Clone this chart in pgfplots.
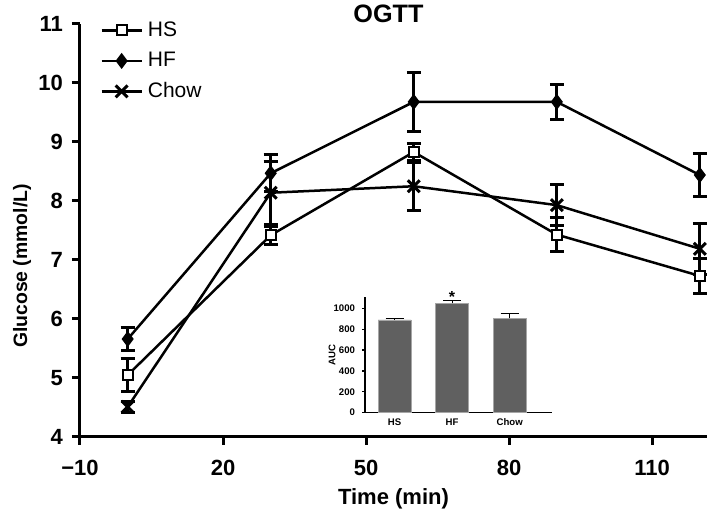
\documentclass[border=0pt]{standalone}
\usepackage{pgfplots}
\pgfplotsset{compat=1.18}
\usepackage{pgfplotstable}
\usepackage{fontspec}
\setmainfont{Liberation Sans}
\definecolor{barg}{RGB}{96,96,96}

\pgfplotstableread{
t m e
0 5.05 0.28
30 7.42 0.15
60 8.83 0.15
90 7.43 0.29
120 6.73 0.29
}\hsdata
\pgfplotstableread{
t m e
0 5.66 0.19
30 8.47 0.31
60 9.68 0.50
90 9.68 0.30
120 8.44 0.37
}\hfdata
\pgfplotstableread{
t m e
0 4.51 0.09
30 8.14 0.53
60 8.25 0.41
90 7.93 0.35
120 7.19 0.43
}\chowdata

\begin{document}
\begin{tikzpicture}
\useasboundingbox (0,0) rectangle (354.5pt,257pt);
\begin{axis}[
  at={(40pt,38.5pt)}, anchor=south west,
  scale only axis, width=313.5pt, height=206.5pt,
  xmin=-10, xmax=121.5, ymin=4, ymax=11,
  axis x line*=bottom, axis y line*=left,
  axis line style={line width=1.5pt},
  tick style={line width=1.5pt, black},
  tick align=outside, major tick length=4pt,
  xtick={-10,20,50,80,110}, xticklabels={−10,20,50,80,110},
  ytick={4,5,6,7,8,9,10,11},
  /pgf/number format/assume math mode=true,
  tick label style={font=\fontsize{11}{13}\selectfont\bfseries},
  xticklabel style={yshift=-4pt},
  yticklabel style={xshift=-1pt},
  every axis x label/.style={at={(rel axis cs:0.5,0)}, yshift=-31pt, anchor=center, font=\fontsize{11}{13}\selectfont\bfseries},
  every axis y label/.style={at={(rel axis cs:-0.0925,0.414)}, rotate=90, anchor=center, font=\fontsize{9.7}{12}\selectfont\bfseries},
  every axis title/.style={at={(rel axis cs:0.492,1)}, yshift=5pt, anchor=center, font=\fontsize{12.6}{14}\selectfont\bfseries},
  xlabel={Time (min)}, ylabel={Glucose (mmol/L)}, title={OGTT},
  clip=false,
  legend image code/.code={\draw[mark repeat=2,mark phase=2,#1] plot coordinates {(0pt,0pt) (10pt,0pt) (20pt,0pt)};},
  legend style={draw=none, fill=none, at={(axis cs:-10,11)}, xshift=10pt, yshift=2pt, anchor=north west, inner sep=0pt, font=\fontsize{10.5}{12}\selectfont, row sep=5.25pt, column sep=2.5pt, nodes={inner sep=0pt, text height=8pt, text depth=2pt}},
  legend cell align=left,
]
\addplot[line width=1.25pt, mark=square*, mark size=2.5pt, mark options={fill=white, solid, line width=1pt},
  error bars/.cd, y dir=both, y explicit, error bar style={line width=1.5pt},
  error mark options={rotate=90, mark size=3.5pt, line width=1.5pt}]
  table[x=t, y=m, y error=e] {\hsdata};
\addlegendentry{HS}
\addplot[line width=1.25pt, mark=diamond*, mark size=3pt, mark options={fill=black, solid},
  error bars/.cd, y dir=both, y explicit, error bar style={line width=1.5pt},
  error mark options={rotate=90, mark size=3.5pt, line width=1.5pt}]
  table[x=t, y=m, y error=e] {\hfdata};
\addlegendentry{HF}
\addplot[line width=1.25pt, mark=x, mark size=4.2pt, mark options={solid, line width=1.5pt},
  error bars/.cd, y dir=both, y explicit, error bar style={line width=1.5pt},
  error mark options={rotate=90, mark size=3.5pt, line width=1.5pt}]
  table[x=t, y=m, y error=e] {\chowdata};
\addlegendentry{Chow}
\end{axis}

\begin{axis}[
  at={(182.5pt,50.65pt)}, anchor=south west,
  scale only axis, width=93.35pt, height=58pt,
  xmin=-0.513, xmax=2.73, ymin=0, ymax=1111,
  axis x line*=bottom, axis y line*=left,
  axis line style={line width=0.65pt},
  xtick={0,1,2}, xticklabels={HS,HF,Chow},
  ytick={0,200,400,600,800,1000},
  x tick style={draw=none}, y tick style={line width=0.65pt, black},
  tick align=outside, major tick length=1.5pt,
  tick label style={font=\fontsize{4.8}{5}\selectfont\bfseries},
  xticklabel style={yshift=2pt},
  /pgf/number format/assume math mode=true,
  /pgf/number format/1000 sep={},
  every axis y label/.style={at={(rel axis cs:0,0.5)}, xshift=-16.5pt, rotate=90, anchor=center, font=\fontsize{4.8}{5}\selectfont\bfseries},
  ylabel={AUC},
  clip=false,
]
\addplot[ybar, bar width=16.5pt, fill=barg, draw=gray!70, line width=0.4pt,
  error bars/.cd, y dir=plus, y explicit, error bar style={line width=0.6pt, black},
  error mark options={rotate=90, mark size=4.5pt, line width=0.6pt, black}]
  coordinates {(0,888) +- (0,16) (1,1048) +- (0,25) (2,904) +- (0,48)};
\node[font=\fontsize{8}{8}\selectfont\bfseries, anchor=base] at (axis cs:1,1060) {*};
\end{axis}
\end{tikzpicture}
\end{document}
